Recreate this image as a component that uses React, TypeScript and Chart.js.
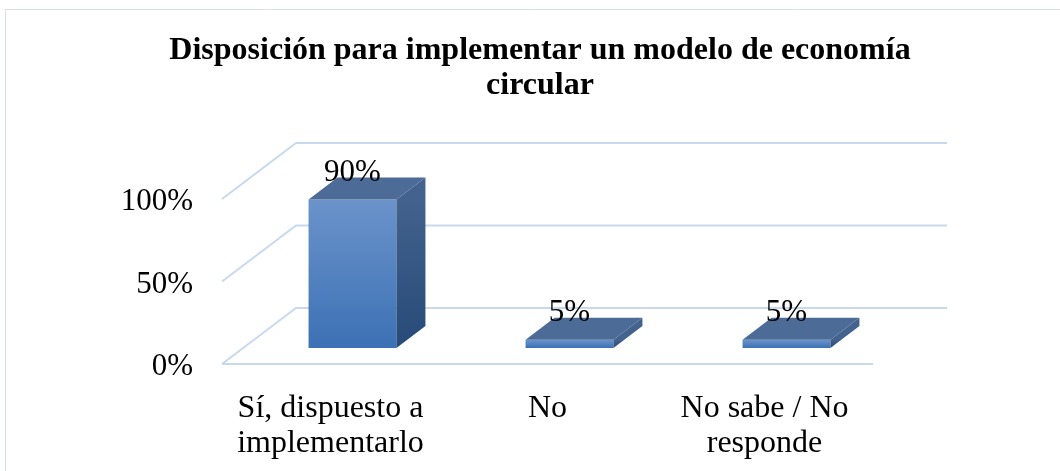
import React, { useEffect, useRef } from "react";
import { Chart, registerables } from "chart.js";

Chart.register(...registerables);

const categories: string[][] = [["Sí, dispuesto a", "implementarlo"], ["No"], ["No sabe / No", "responde"]];
const values: number[] = [90, 5, 5];
const dataLabels: string[] = ["90%", "5%", "5%"];
const yTicks: number[] = [0, 50, 100];
const yTickLabels: string[] = ["0%", "50%", "100%"];
const titleLines: string[] = ["Disposición para implementar un modelo de economía", "circular"];

const FONT = '"Liberation Serif", "Times New Roman", serif';
const W = 1060;
const H = 471;
// 3D depth of the floor/walls
const DX = 74;
const DY = -56;
// bar front offset and bar depth
const BFX = 22;
const BFY = -16;
const BDX = 29;
const BDY = -22;

const threeD = {
  id: "threeD",
  beforeDatasetsDraw(chart: any) {
    const ctx = chart.ctx;
    const { left, right } = chart.chartArea;
    const y = chart.scales.y;
    ctx.save();
    ctx.strokeStyle = "#c8d9ef";
    ctx.lineWidth = 2;
    yTicks.forEach((t) => {
      const py = y.getPixelForValue(t);
      ctx.beginPath();
      ctx.moveTo(left, py);
      ctx.lineTo(left + DX, py + DY);
      ctx.lineTo(right + DX, py + DY);
      ctx.stroke();
      if (t === 0) {
        ctx.beginPath();
        ctx.moveTo(left, py);
        ctx.lineTo(right, py);
        ctx.stroke();
      }
    });
    ctx.restore();
  },
  afterDatasetsDraw(chart: any) {
    const ctx = chart.ctx;
    const meta = chart.getDatasetMeta(0);
    const { left } = chart.chartArea;
    const y = chart.scales.y;
    const x = chart.scales.x;
    ctx.save();
    meta.data.forEach((el: any, i: number) => {
      const p = el.getProps(["x", "y", "base", "width"], true);
      const x0 = p.x - p.width / 2 + BFX;
      const x1 = p.x + p.width / 2 + BFX;
      const yt = p.y + BFY;
      const yb = p.base + BFY;
      // front face
      const gf = ctx.createLinearGradient(0, yt, 0, yb);
      gf.addColorStop(0, "#6b93ca");
      gf.addColorStop(1, "#3c71b5");
      ctx.fillStyle = gf;
      ctx.fillRect(x0, yt, x1 - x0, yb - yt);
      // side face
      const gs = ctx.createLinearGradient(0, yt, 0, yb);
      gs.addColorStop(0, "#43628d");
      gs.addColorStop(1, "#274a78");
      ctx.fillStyle = gs;
      ctx.beginPath();
      ctx.moveTo(x1, yt);
      ctx.lineTo(x1 + BDX, yt + BDY);
      ctx.lineTo(x1 + BDX, yb + BDY);
      ctx.lineTo(x1, yb);
      ctx.closePath();
      ctx.fill();
      // top face
      ctx.fillStyle = "#4c6b97";
      ctx.beginPath();
      ctx.moveTo(x0, yt);
      ctx.lineTo(x1, yt);
      ctx.lineTo(x1 + BDX, yt + BDY);
      ctx.lineTo(x0 + BDX, yt + BDY);
      ctx.closePath();
      ctx.fill();
      // data label
      ctx.fillStyle = "#000";
      ctx.font = `31px ${FONT}`;
      ctx.textAlign = "center";
      ctx.textBaseline = "alphabetic";
      ctx.fillText(dataLabels[i], (x0 + x1) / 2, yt - 19);
    });

    // y tick labels
    ctx.fillStyle = "#000";
    ctx.font = `31px ${FONT}`;
    ctx.textAlign = "right";
    ctx.textBaseline = "alphabetic";
    yTicks.forEach((t, i) => {
      ctx.fillText(yTickLabels[i], left - 29, y.getPixelForValue(t) + 11);
    });

    // category labels
    ctx.font = `32px ${FONT}`;
    ctx.textAlign = "center";
    const base = y.getPixelForValue(0);
    categories.forEach((lines, i) => {
      const cx = x.getPixelForValue(i);
      lines.forEach((ln, j) => {
        ctx.fillText(ln, cx, base + 53 + j * 35);
      });
    });

    // title
    ctx.font = `bold 32px ${FONT}`;
    titleLines.forEach((ln, j) => {
      ctx.fillText(ln, 540, 59 + j * 35);
    });

    // outer border
    ctx.strokeStyle = "#d9dee6";
    ctx.lineWidth = 1;
    ctx.beginPath();
    ctx.moveTo(5.5, H + 5);
    ctx.lineTo(5.5, 9.5);
    ctx.lineTo(W + 5, 9.5);
    ctx.stroke();
    ctx.restore();
  },
};

export default function App() {
  const ref = useRef<HTMLCanvasElement | null>(null);
  useEffect(() => {
    if (!ref.current) return;
    const chart = new Chart(ref.current, {
      type: "bar",
      data: {
        labels: categories.map((c) => c.join(" ")),
        datasets: [
          {
            data: values,
            backgroundColor: "rgba(0,0,0,0)",
            borderWidth: 0,
            barPercentage: 0.405,
            categoryPercentage: 1,
          },
        ],
      },
      options: {
        responsive: false,
        animation: false,
        devicePixelRatio: 1,
        layout: { padding: { left: 222, right: 187, top: 199, bottom: 107 } },
        plugins: { legend: { display: false }, title: { display: false }, tooltip: { enabled: false } },
        scales: {
          x: { type: "category", display: false, offset: true },
          y: { type: "linear", display: false, min: 0, max: 100 },
        },
      },
      plugins: [threeD],
    });
    return () => chart.destroy();
  }, []);
  return (
    <div style={{ position: "absolute", left: 0, top: 0, width: W, height: H, background: "#fff" }}>
      <canvas ref={ref} width={W} height={H} style={{ display: "block", width: W, height: H }} />
    </div>
  );
}
